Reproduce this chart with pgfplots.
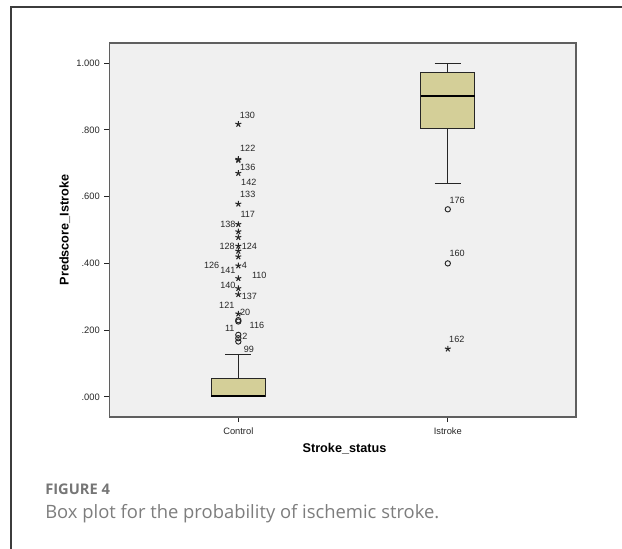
\documentclass[border=0pt]{standalone}
\usepackage{pgfplots}
\pgfplotsset{compat=1.18}
\usepgfplotslibrary{statistics}
\usepackage{fontspec}
\setmainfont{Liberation Sans}
\newfontfamily\capfont{Open Sans}
\definecolor{boxfill}{RGB}{212,207,152}
\definecolor{plotbg}{RGB}{240,240,240}
\definecolor{framec}{RGB}{95,95,95}
\definecolor{outerc}{RGB}{60,60,60}
\definecolor{capgray}{RGB}{118,118,118}
\definecolor{capgray2}{RGB}{125,125,125}
\begin{document}
\begin{tikzpicture}
\path[use as bounding box] (0pt,0pt) rectangle (466.5pt,-411.75pt);
\draw[line width=1.1pt, outerc] (8.25pt,-411.75pt) -- (8.25pt,-5.25pt) -- (466.5pt,-5.25pt);
\begin{axis}[
  at={(82.125pt,-32.25pt)}, anchor=north west,
  scale only axis, width=349.875pt, height=280.5pt,
  xmin=-0.615, xmax=1.612, ymin=-0.060, ymax=1.060,
  axis background/.style={fill=plotbg},
  axis line style={framec, line width=1pt},
  xtick={0,1}, xticklabels={Control,Istroke},
  ytick={0,0.2,0.4,0.6,0.8,1}, yticklabels={.000,.200,.400,.600,.800,1.000},
  tick align=outside, tick pos=left, major tick length=3.8pt,
  tick style={black!85, line width=0.7pt},
  tick label style={font=\fontsize{7}{8}\selectfont, color=black!85},
  xticklabel style={yshift=-1pt},
  clip=false,
  boxplot/draw direction=y,
  boxplot/every median/.style={line width=1.7pt, black},
  boxplot/every box/.style={draw=black!85, fill=boxfill, line width=0.8pt},
  boxplot/every whisker/.style={black!85, line width=0.8pt},
]
% Control box
\addplot[boxplot prepared={draw position=0, lower whisker=0.0, lower quartile=0.0,
  median=0.002, upper quartile=0.054, upper whisker=0.126,
  box extend=0.258, whisker extend=0.125}, mark=none] coordinates {};
% Istroke box
\addplot[boxplot prepared={draw position=1, lower whisker=0.640, lower quartile=0.805,
  median=0.901, upper quartile=0.973, upper whisker=0.998,
  box extend=0.258, whisker extend=0.125}, mark=none] coordinates {};
% extreme outliers (stars)
\addplot[only marks, mark=star, mark size=2.3pt, black!85, line width=0.8pt] coordinates {
 (0,0.817) (0,0.712) (0,0.709) (0,0.670) (0,0.578) (0,0.517) (0,0.495) (0,0.478)
 (0,0.452) (0,0.437) (0,0.420) (0,0.393) (0,0.355) (0,0.325) (0,0.307) (0,0.249)
 (1,0.144)};
% outliers (circles)
\addplot[only marks, mark=o, mark size=2.0pt, black!85, line width=0.7pt] coordinates {
 (0,0.230) (0,0.226) (0,0.186) (0,0.176) (0,0.166)
 (1,0.562) (1,0.400)};
% outlier case labels
\begin{scope}[every node/.style={font=\fontsize{6.8}{8}\selectfont, text=black!85, inner sep=0pt}]
\node at (axis cs:0.043,0.844) {130};
\node at (axis cs:0.045,0.746) {122};
\node at (axis cs:0.045,0.689) {136};
\node at (axis cs:0.050,0.644) {142};
\node at (axis cs:0.045,0.608) {133};
\node at (axis cs:0.045,0.548) {117};
\node at (axis cs:-0.050,0.518) {138};
\node at (axis cs:-0.053,0.452) {128};
\node at (axis cs:0.053,0.452) {124};
\node at (axis cs:-0.127,0.393) {126};
\node at (axis cs:-0.050,0.380) {141};
\node at (axis cs:0.029,0.395) {4};
\node at (axis cs:0.100,0.365) {110};
\node at (axis cs:-0.050,0.335) {140};
\node at (axis cs:0.053,0.300) {137};
\node at (axis cs:-0.055,0.275) {121};
\node at (axis cs:0.033,0.252) {20};
\node at (axis cs:0.089,0.213) {116};
\node at (axis cs:-0.041,0.204) {11};
\node at (axis cs:0.031,0.181) {2};
\node at (axis cs:0.050,0.144) {99};
\node at (axis cs:1.045,0.590) {176};
\node at (axis cs:1.045,0.431) {160};
\node at (axis cs:1.043,0.171) {162};
\end{scope}
% axis titles
\node[font=\fontsize{9.5}{11}\selectfont\bfseries] at (axis cs:0.507,-0.156) {Stroke\_status};
\node[font=\fontsize{9.5}{11}\selectfont\bfseries, rotate=90] at (axis cs:-0.828,0.5) {Predscore\_Istroke};
\end{axis}
% caption
\node[anchor=west, inner sep=0pt, font=\capfont\bfseries\fontsize{11}{13}\selectfont, text=capgray] at (33.75pt,-367pt) {FIGURE 4};
\node[anchor=west, inner sep=0pt, font=\capfont\fontsize{13.8}{16}\selectfont, text=capgray2] at (33.75pt,-385.5pt) {Box plot for the probability of ischemic stroke.};
\end{tikzpicture}
\end{document}
